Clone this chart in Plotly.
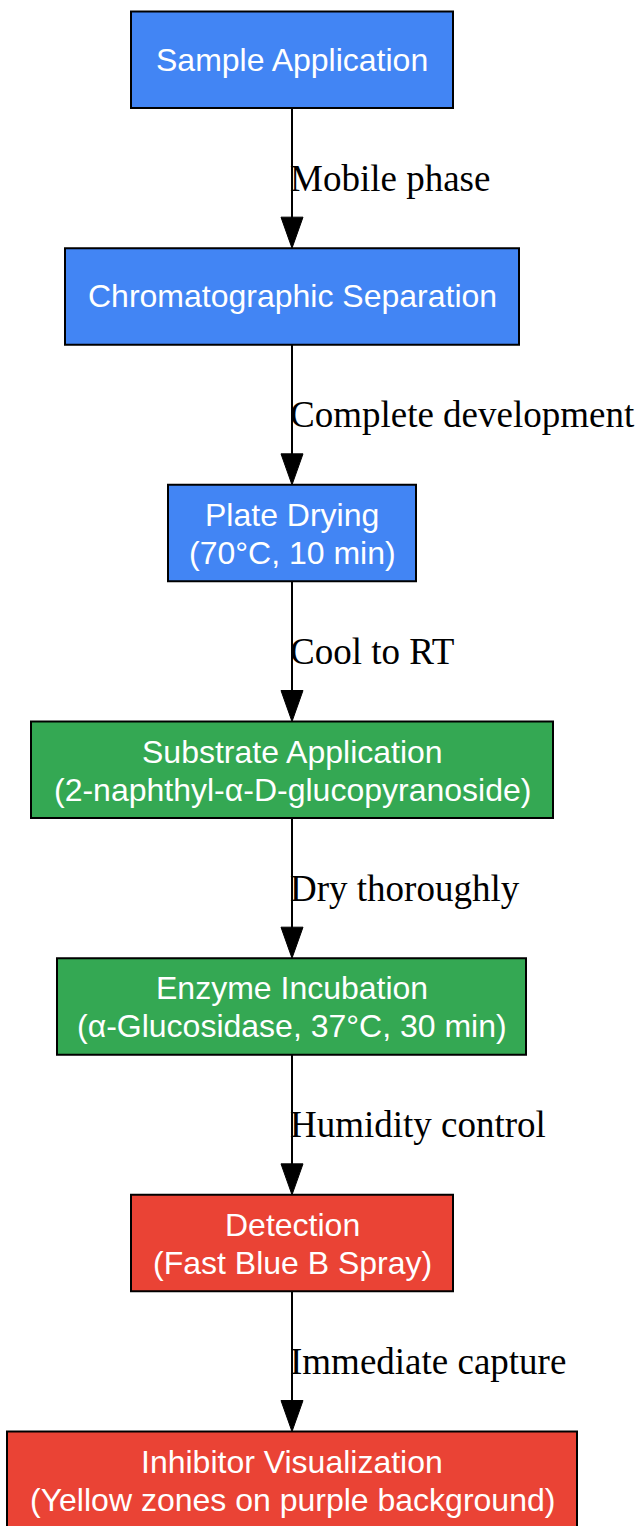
import plotly.graph_objects as go

# ---- data ----
step_lines = [
    ["Sample Application"],
    ["Chromatographic Separation"],
    ["Plate Drying", "(70°C, 10 min)"],
    ["Substrate Application", "(2-naphthyl-α-D-glucopyranoside)"],
    ["Enzyme Incubation", "(α-Glucosidase, 37°C, 30 min)"],
    ["Detection", "(Fast Blue B Spray)"],
    ["Inhibitor Visualization", "(Yellow zones on purple background)"],
]
step_group = ["prep", "prep", "prep", "enzyme", "enzyme", "detect", "detect"]
edge_labels = ["Mobile phase", "Complete development", "Cool to RT",
               "Dry thoroughly", "Humidity control", "Immediate capture"]

# ---- styling / layout ----
group_colors = {"prep": "#4285F4", "enzyme": "#34A853", "detect": "#EA4335"}
W, H = 641, 1526
CX = 292
TOP0 = 11.5
STEP = 236.67
BOX_H = 96.5
box_extents = [(131, 453), (65, 519), (168, 416), (31, 553), (57, 526), (131, 453), (7, 577)]
NODE_FONT = dict(family="Liberation Sans, Arial, sans-serif", size=32, color="white")
EDGE_FONT = dict(family="Liberation Serif, Times New Roman, serif", size=37, color="black")
LINE_GAP = 38
ARROW_L, ARROW_W = 31, 22

shapes, annotations = [], []
tops = []
for i, lines in enumerate(step_lines):
    top = TOP0 + i * STEP
    bot = top + BOX_H
    tops.append((top, bot))
    x0, x1 = box_extents[i]
    shapes.append(dict(type="rect", xref="x", yref="y", x0=x0, x1=x1, y0=top, y1=bot,
                       fillcolor=group_colors[step_group[i]],
                       line=dict(color="black", width=2), layer="above"))
    cy = (top + bot) / 2 + (1 if len(lines) > 1 else 0)
    n = len(lines)
    for j, t in enumerate(lines):
        y = cy + (j - (n - 1) / 2) * LINE_GAP
        annotations.append(dict(x=CX, y=y, xref="x", yref="y", text=t, showarrow=False,
                                xanchor="center", yanchor="middle", font=NODE_FONT))

for i, lab in enumerate(edge_labels):
    b = tops[i][1]
    t = tops[i + 1][0]
    shapes.append(dict(type="line", xref="x", yref="y", x0=CX, x1=CX, y0=b, y1=t - ARROW_L + 2,
                       line=dict(color="black", width=2)))
    shapes.append(dict(type="path", xref="x", yref="y",
                       path=f"M {CX - ARROW_W/2},{t - ARROW_L} L {CX + ARROW_W/2},{t - ARROW_L} L {CX},{t} Z",
                       fillcolor="black", line=dict(color="black", width=1)))
    annotations.append(dict(x=CX - 4, y=(b + t) / 2, xref="x", yref="y", text=lab,
                            showarrow=False, xanchor="left", yanchor="middle", font=EDGE_FONT))

fig = go.Figure()
fig.update_layout(
    width=W, height=H, margin=dict(l=0, r=0, t=0, b=0),
    paper_bgcolor="white", plot_bgcolor="white",
    xaxis=dict(range=[0, W], visible=False, fixedrange=True),
    yaxis=dict(range=[H, 0], visible=False, fixedrange=True),
    shapes=shapes, annotations=annotations, showlegend=False,
)
fig.write_html("out.html", config={"displayModeBar": False},
               post_script="document.body.style.margin='0';document.body.style.overflow='hidden';")
